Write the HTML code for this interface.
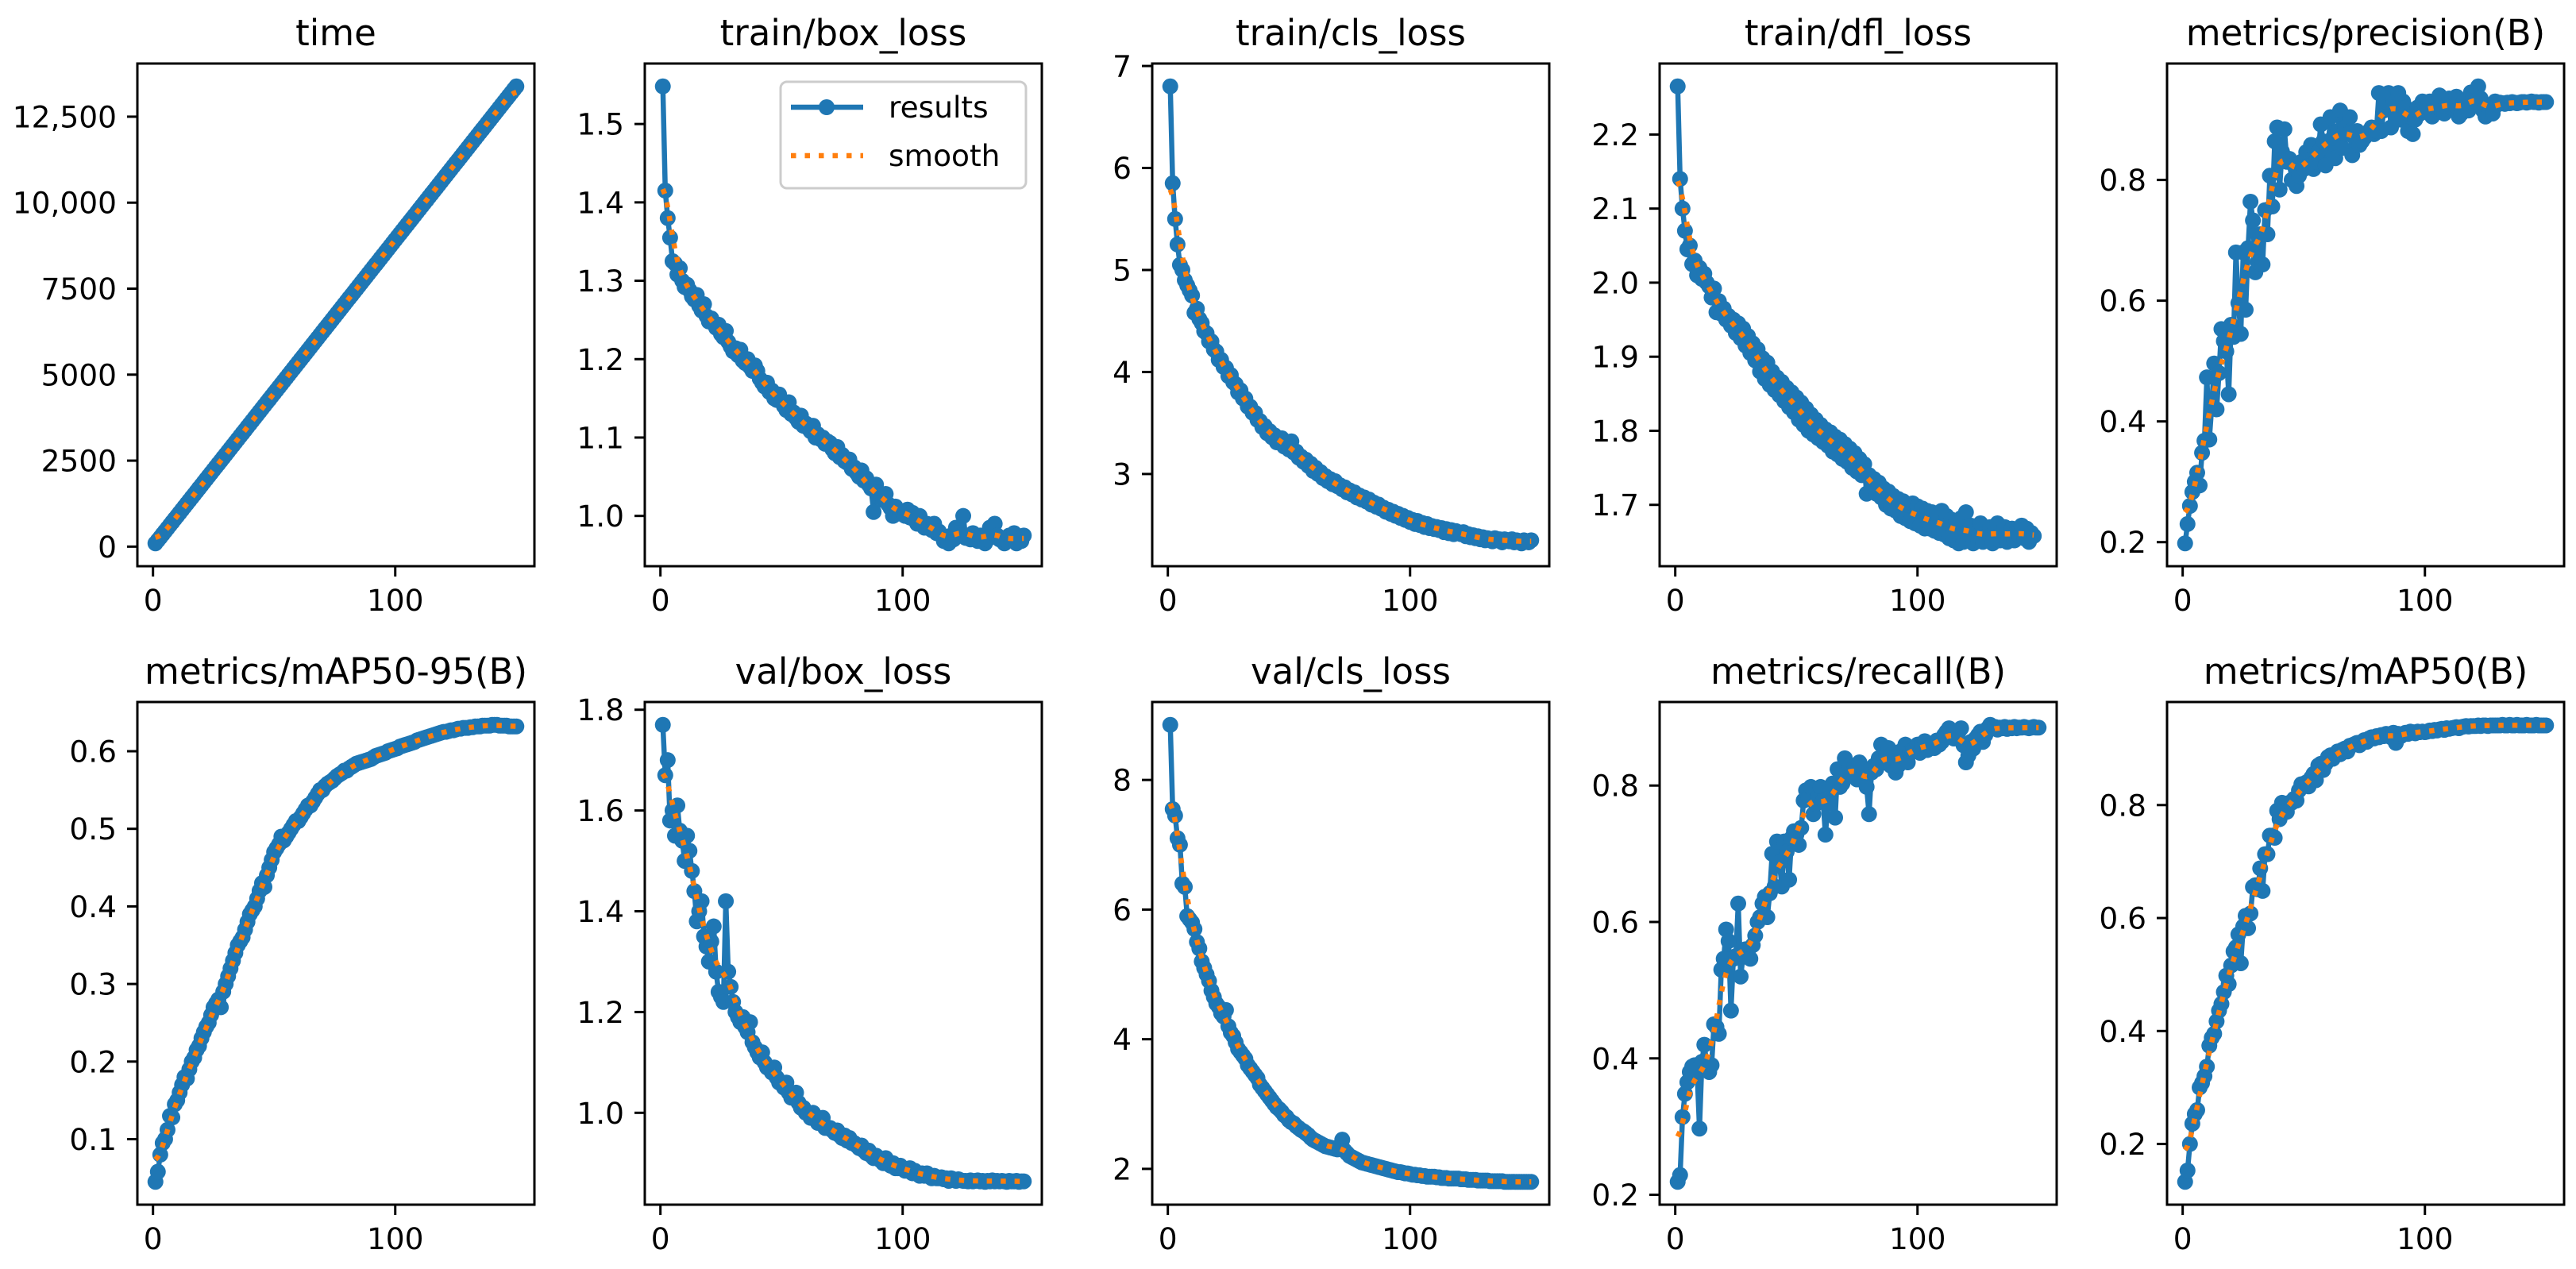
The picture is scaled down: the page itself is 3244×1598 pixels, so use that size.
<!DOCTYPE html>
<html><head><meta charset="utf-8"><style>
html,body{margin:0;padding:0;background:#fff;}
svg{display:block;font-family:"DejaVu Sans","Liberation Sans",sans-serif;}
</style></head><body>
<svg id="fig" width="3244" height="1598" viewBox="0 0 3244 1598" xmlns="http://www.w3.org/2000/svg"></svg>
<script>
const epochs = Array.from({length:150},(_,i)=>i+1);
const timeVals = [95,182,270,360,448,537,626,715,805,893,982,1071,1160,1250,1339,1428,1517,1606,1696,1785,1874,1963,2052,2142,2231,2320,2409,2498,2588,2677,2766,2855,2944,3034,3123,3212,3301,3390,3480,3569,3658,3747,3836,3926,4015,4104,4193,4282,4372,4461,4550,4639,4728,4818,4907,4996,5085,5174,5264,5353,5442,5531,5620,5710,5799,5888,5977,6066,6156,6245,6334,6423,6512,6602,6691,6780,6869,6958,7048,7137,7226,7315,7404,7494,7583,7672,7761,7850,7940,8029,8118,8207,8296,8386,8475,8564,8653,8742,8832,8921,9010,9099,9188,9278,9367,9456,9545,9634,9724,9813,9902,9991,10080,10170,10259,10348,10437,10526,10616,10705,10794,10883,10972,11062,11151,11240,11329,11418,11508,11597,11686,11775,11864,11954,12043,12132,12221,12310,12400,12489,12578,12667,12756,12846,12935,13024,13113,13202,13292,13381];
const trainBox = [1.548,1.415,1.380,1.355,1.325,1.322,1.308,1.316,1.300,1.292,1.295,1.288,1.280,1.276,1.282,1.268,1.262,1.270,1.255,1.248,1.252,1.245,1.240,1.244,1.232,1.228,1.236,1.222,1.216,1.210,1.214,1.205,1.212,1.198,1.195,1.200,1.190,1.185,1.192,1.185,1.175,1.170,1.165,1.170,1.158,1.160,1.150,1.148,1.155,1.146,1.140,1.135,1.145,1.130,1.132,1.125,1.120,1.128,1.115,1.118,1.112,1.108,1.115,1.100,1.104,1.098,1.100,1.092,1.095,1.093,1.085,1.080,1.088,1.075,1.078,1.070,1.068,1.072,1.060,1.062,1.055,1.050,1.058,1.045,1.048,1.040,1.035,1.005,1.040,1.030,1.025,1.020,1.028,1.015,1.010,1.000,1.012,1.008,1.003,1.005,1.000,1.008,0.998,1.004,0.995,0.990,1.000,0.992,0.985,0.990,0.985,0.982,0.990,0.978,0.980,0.975,0.968,0.972,0.965,0.975,0.970,0.985,0.978,0.975,1.000,0.972,0.975,0.970,0.978,0.972,0.968,0.975,0.972,0.965,0.970,0.985,0.978,0.990,0.975,0.970,0.972,0.965,0.968,0.975,0.970,0.978,0.965,0.972,0.968,0.975];
const trainCls = [6.80,5.85,5.50,5.25,5.05,5.00,4.90,4.85,4.80,4.75,4.58,4.62,4.52,4.48,4.40,4.38,4.30,4.30,4.22,4.20,4.12,4.12,4.05,4.04,3.96,3.97,3.90,3.88,3.80,3.82,3.74,3.74,3.66,3.66,3.60,3.60,3.53,3.52,3.46,3.47,3.40,3.42,3.36,3.38,3.31,3.32,3.35,3.27,3.28,3.24,3.32,3.21,3.22,3.16,3.17,3.12,3.14,3.08,3.10,3.03,3.06,3.00,3.02,2.96,2.98,2.93,2.95,2.90,2.93,2.88,2.89,2.85,2.87,2.82,2.84,2.80,2.82,2.77,2.79,2.75,2.77,2.73,2.75,2.70,2.72,2.68,2.70,2.66,2.67,2.63,2.65,2.61,2.63,2.59,2.61,2.57,2.59,2.55,2.57,2.53,2.55,2.51,2.54,2.50,2.52,2.48,2.51,2.47,2.49,2.46,2.48,2.45,2.47,2.43,2.46,2.42,2.45,2.41,2.44,2.42,2.41,2.43,2.39,2.41,2.38,2.40,2.37,2.39,2.36,2.38,2.35,2.37,2.36,2.34,2.37,2.35,2.36,2.33,2.36,2.35,2.34,2.36,2.33,2.35,2.34,2.32,2.35,2.34,2.33,2.35];
const trainDfl = [2.265,2.140,2.100,2.070,2.045,2.050,2.025,2.030,2.010,2.020,2.005,2.012,2.000,1.995,1.980,1.992,1.960,1.975,1.958,1.965,1.950,1.955,1.942,1.950,1.932,1.945,1.925,1.938,1.915,1.928,1.905,1.918,1.895,1.910,1.880,1.898,1.870,1.892,1.862,1.880,1.855,1.872,1.848,1.866,1.840,1.858,1.832,1.852,1.825,1.845,1.815,1.838,1.808,1.830,1.800,1.822,1.795,1.815,1.790,1.808,1.785,1.802,1.780,1.798,1.772,1.792,1.768,1.788,1.762,1.782,1.758,1.776,1.750,1.770,1.745,1.762,1.740,1.755,1.715,1.740,1.725,1.735,1.715,1.730,1.710,1.722,1.700,1.718,1.695,1.712,1.692,1.708,1.685,1.705,1.682,1.700,1.678,1.702,1.675,1.698,1.672,1.695,1.668,1.692,1.668,1.690,1.665,1.688,1.662,1.692,1.660,1.685,1.655,1.680,1.652,1.678,1.648,1.682,1.650,1.690,1.655,1.672,1.648,1.668,1.652,1.675,1.650,1.662,1.655,1.670,1.648,1.665,1.675,1.652,1.658,1.670,1.650,1.662,1.668,1.652,1.665,1.658,1.672,1.655,1.668,1.650,1.662,1.658];
const precision = [.198,.23,.26,.283,.30,.315,.294,.348,.368,.473,.37,.425,.496,.42,.48,.553,.533,.516,.445,.56,.54,.68,.596,.545,.68,.585,.687,.764,.733,.647,.664,.71,.66,.75,.71,.807,.756,.864,.887,.784,.847,.884,.83,.835,.80,.824,.79,.807,.83,.818,.846,.823,.858,.818,.83,.846,.892,.864,.824,.853,.904,.87,.836,.881,.915,.853,.887,.876,.904,.841,.87,.881,.858,.864,.87,.876,.881,.887,.876,.881,.944,.881,.915,.93,.944,.887,.93,.91,.944,.90,.93,.92,.881,.905,.876,.90,.92,.91,.93,.915,.92,.93,.905,.91,.92,.94,.915,.91,.93,.935,.92,.925,.938,.905,.91,.93,.92,.915,.945,.94,.93,.955,.935,.915,.905,.92,.92,.91,.93,.925,.928,.927,.926,.928,.927,.929,.928,.927,.928,.929,.929,.928,.929,.93,.929,.929,.928,.929,.929,.929];
const map5095 = [.045,.058,.080,.095,.10,.112,.13,.128,.145,.15,.16,.17,.18,.178,.19,.20,.205,.215,.22,.23,.238,.245,.25,.26,.27,.275,.28,.27,.29,.30,.31,.32,.33,.34,.35,.355,.36,.37,.38,.39,.395,.40,.41,.42,.43,.425,.44,.45,.46,.47,.475,.48,.49,.485,.49,.495,.50,.505,.51,.51,.515,.52,.525,.53,.53,.535,.54,.545,.55,.55,.555,.558,.56,.562,.565,.568,.57,.572,.575,.575,.578,.58,.582,.584,.585,.586,.587,.588,.589,.59,.592,.594,.595,.596,.597,.598,.60,.601,.602,.603,.604,.606,.607,.608,.609,.61,.611,.612,.614,.615,.616,.617,.618,.619,.62,.621,.622,.623,.624,.625,.625,.626,.627,.627,.628,.629,.629,.63,.63,.63,.631,.631,.632,.632,.632,.633,.633,.633,.633,.634,.634,.634,.633,.633,.633,.633,.632,.632,.632,.632];
const valBox = [1.77,1.67,1.70,1.58,1.60,1.55,1.61,1.56,1.54,1.50,1.55,1.52,1.48,1.44,1.38,1.40,1.42,1.35,1.33,1.30,1.34,1.37,1.28,1.24,1.23,1.22,1.42,1.28,1.25,1.22,1.20,1.19,1.18,1.19,1.17,1.16,1.18,1.14,1.13,1.12,1.11,1.12,1.10,1.09,1.09,1.08,1.09,1.07,1.06,1.06,1.05,1.06,1.04,1.03,1.03,1.04,1.02,1.01,1.01,1.00,1.00,0.99,1.00,0.99,0.98,0.98,0.99,0.97,0.97,0.97,0.965,0.96,0.965,0.955,0.95,0.955,0.945,0.95,0.94,0.94,0.935,0.93,0.935,0.925,0.92,0.925,0.915,0.91,0.915,0.91,0.905,0.90,0.91,0.90,0.895,0.90,0.89,0.89,0.895,0.89,0.885,0.885,0.89,0.88,0.885,0.88,0.875,0.88,0.875,0.88,0.875,0.87,0.875,0.87,0.87,0.872,0.868,0.87,0.865,0.87,0.868,0.865,0.868,0.866,0.865,0.865,0.864,0.866,0.864,0.865,0.866,0.864,0.865,0.863,0.865,0.864,0.866,0.864,0.865,0.864,0.865,0.864,0.863,0.865,0.864,0.864,0.865,0.863,0.864,0.864];
const valCls = [8.85,7.55,7.45,7.10,7.00,6.40,6.35,5.90,5.85,5.80,5.70,5.50,5.40,5.20,5.10,5.00,4.90,4.75,4.65,4.55,4.50,4.40,4.35,4.45,4.20,4.10,4.05,3.95,3.85,3.80,3.75,3.70,3.60,3.55,3.50,3.45,3.40,3.30,3.25,3.20,3.15,3.10,3.05,3.00,2.95,2.92,2.88,2.83,2.80,2.75,2.72,2.70,2.66,2.63,2.60,2.58,2.55,2.52,2.48,2.45,2.43,2.41,2.39,2.37,2.35,2.34,2.33,2.32,2.31,2.30,2.35,2.45,2.28,2.24,2.20,2.18,2.16,2.14,2.12,2.10,2.09,2.08,2.07,2.06,2.05,2.04,2.03,2.02,2.01,2.00,1.99,1.98,1.97,1.96,1.95,1.95,1.94,1.93,1.93,1.92,1.91,1.91,1.90,1.90,1.89,1.89,1.88,1.88,1.88,1.88,1.87,1.87,1.86,1.86,1.86,1.85,1.85,1.85,1.85,1.85,1.84,1.84,1.84,1.83,1.83,1.83,1.83,1.82,1.82,1.82,1.82,1.82,1.81,1.81,1.81,1.81,1.81,1.81,1.80,1.80,1.80,1.80,1.80,1.80,1.80,1.80,1.80,1.80,1.80,1.80];
const recall = [.219,.229,.314,.348,.365,.38,.388,.39,.383,.297,.395,.42,.39,.38,.39,.45,.446,.436,.53,.546,.589,.572,.47,.546,.55,.627,.52,.55,.56,.557,.546,.566,.58,.60,.607,.627,.637,.607,.642,.70,.652,.718,.687,.652,.718,.703,.662,.723,.733,.728,.713,.738,.778,.793,.783,.798,.758,.773,.783,.798,.778,.728,.773,.798,.803,.753,.824,.798,.803,.84,.824,.829,.819,.829,.809,.834,.824,.819,.798,.758,.819,.829,.824,.84,.86,.834,.845,.855,.829,.84,.819,.829,.85,.84,.86,.834,.85,.85,.855,.86,.848,.86,.865,.852,.858,.862,.855,.866,.86,.864,.874,.879,.884,.874,.869,.874,.879,.884,.859,.834,.844,.864,.854,.869,.874,.879,.864,.874,.884,.889,.884,.886,.882,.885,.884,.886,.883,.885,.884,.886,.884,.885,.885,.886,.885,.884,.885,.886,.885,.885];
const map50 = [.133,.153,.20,.236,.253,.26,.30,.308,.32,.337,.374,.388,.395,.417,.436,.448,.469,.498,.483,.516,.541,.548,.571,.52,.585,.604,.582,.608,.655,.658,.651,.688,.648,.713,.713,.746,.746,.742,.79,.775,.804,.79,.788,.804,.804,.811,.808,.826,.837,.837,.84,.833,.848,.855,.844,.87,.873,.862,.873,.885,.888,.882,.89,.895,.89,.898,.9,.895,.905,.906,.908,.91,.906,.912,.915,.912,.918,.92,.918,.922,.92,.924,.922,.926,.925,.92,.928,.91,.926,.922,.925,.928,.926,.93,.929,.927,.93,.929,.93,.929,.93,.932,.931,.933,.932,.934,.935,.933,.936,.935,.936,.937,.938,.936,.938,.939,.94,.939,.94,.94,.94,.941,.94,.941,.941,.94,.941,.941,.941,.941,.941,.942,.941,.941,.942,.941,.941,.942,.941,.941,.941,.942,.941,.941,.941,.942,.941,.941,.941,.941];

const xTicks = [0,100];
const xTickLabels = ["0","100"];
const timeTicks = [0,2500,5000,7500,10000,12500];
const timeTickLabels = ["0","2500","5000","7500","10,000","12,500"];
const boxTicks = [1.0,1.1,1.2,1.3,1.4,1.5];
const clsTicks = [3,4,5,6,7];
const dflTicks = [1.7,1.8,1.9,2.0,2.1,2.2];
const fracTicks = [0.2,0.4,0.6,0.8];
const map5095Ticks = [0.1,0.2,0.3,0.4,0.5,0.6];
const valBoxTicks = [1.0,1.2,1.4,1.6,1.8];
const valClsTicks = [2,4,6,8];

const NS = "http://www.w3.org/2000/svg";
const svg = document.getElementById('fig');
function mk(tag, attrs, parent){
  const e = document.createElementNS(NS, tag);
  for (const k in attrs) e.setAttribute(k, attrs[k]);
  (parent||svg).appendChild(e);
  return e;
}
function smooth(y, sigma){
  const r = Math.round(4*sigma), n = y.length, w = [];
  let s = 0;
  for (let k=-r;k<=r;k++){ const v = Math.exp(-k*k/(2*sigma*sigma)); w.push(v); s+=v; }
  return y.map((_,i)=>{
    let acc = 0;
    for (let k=-r;k<=r;k++){
      let j = i+k;
      while (j<0 || j>=n){ if (j<0) j = -j-1; if (j>=n) j = 2*n-j-1; }
      acc += w[k+r]*y[j];
    }
    return acc/s;
  });
}
function fmt(v, ticks, labels, i){
  if (labels) return labels[i];
  const allInt = ticks.every(t => Number.isInteger(t));
  return allInt ? String(v) : v.toFixed(1);
}

const COLW = 500, ROWH = 633;
const LEFTS = [173,812,1451,2090,2729];
const TOPS = [80,884];
const DASH = '6.5 11';

function panel(idx, title, ys, ticks, tickLabels, key, legend){
  const L = LEFTS[idx%5], T = TOPS[Math.floor(idx/5)], B = T+ROWH;
  const g = mk('g', {});
  
  
  const sm = smooth(ys, 3);
  const all = ys.concat(sm);
  let lo = Math.min(...all), hi = Math.max(...all);
  const pad = (hi-lo)*0.05; lo -= pad; hi += pad;
  const x0 = 1 - 149*0.05, x1 = 150 + 149*0.05;
  const sx = v => L + (v - x0)/(x1 - x0)*COLW;
  const sy = v => B - (v - lo)/(hi - lo)*ROWH;

  const t = mk('text', {x: L+COLW/2, y: T-23, 'text-anchor':'middle', 'font-size':45, fill:'#000'}, g);
  t.textContent = title;
  
  

  const clip = mk('clipPath', {id:'clip'+idx}, g);
  mk('rect', {x:L, y:T, width:COLW, height:ROWH}, clip);

  const d = ys.map((v,i)=>(i?'L':'M')+sx(epochs[i]).toFixed(2)+','+sy(v).toFixed(2)).join('');
  const line = mk('path', {d, fill:'none', stroke:'#1f77b4', 'stroke-width':6.5, 'stroke-linejoin':'round', 'clip-path':'url(#clip'+idx+')'}, g);
  
  
  const mg = mk('g', {fill:'#1f77b4', 'clip-path':'url(#clip'+idx+')'}, g);
  
  
  ys.forEach((v,i)=>{
    const c = mk('circle', {cx:sx(epochs[i]).toFixed(2), cy:sy(v).toFixed(2), r:10}, mg);
    
    
  });
  const ds = sm.map((v,i)=>(i?'L':'M')+sx(epochs[i]).toFixed(2)+','+sy(v).toFixed(2)).join('');
  const sl = mk('path', {d:ds, fill:'none', stroke:'#ff7f0e', 'stroke-width':6.5, 'stroke-dasharray':DASH, 'clip-path':'url(#clip'+idx+')'}, g);
  
  

  const fr = mk('rect', {x:L, y:T, width:COLW, height:ROWH, fill:'none', stroke:'#000', 'stroke-width':3}, g);
  
  

  ticks.forEach((v,i)=>{
    const y = sy(v);
    mk('line', {x1:L-13, x2:L, y1:y, y2:y, stroke:'#000', 'stroke-width':3}, g);
    const tl = mk('text', {x:L-26, y:y+13.5, 'text-anchor':'end', 'font-size':37.5, fill:'#000'}, g);
    tl.textContent = fmt(v, ticks, tickLabels, i);
    
    
  });
  xTicks.forEach((v,i)=>{
    const x = sx(v);
    mk('line', {x1:x, x2:x, y1:B, y2:B+13, stroke:'#000', 'stroke-width':3}, g);
    const tl = mk('text', {x:x, y:B+56, 'text-anchor':'middle', 'font-size':37.5, fill:'#000'}, g);
    tl.textContent = xTickLabels[i];
    
    
  });

  if (legend){
    const lg = mk('g', {}, g);
    
    
    mk('rect', {x:L+171, y:T+23, width:309, height:134, rx:8, fill:'#fff', 'fill-opacity':0.8, stroke:'#cccccc', 'stroke-width':3}, lg);
    const e1 = mk('g', {}, lg);
    
    
    mk('line', {x1:L+184, x2:L+275, y1:T+55, y2:T+55, stroke:'#1f77b4', 'stroke-width':6.5}, e1);
    mk('circle', {cx:L+229, cy:T+55, r:10, fill:'#1f77b4'}, e1);
    const t1 = mk('text', {x:L+307, y:T+68, 'font-size':37.5, fill:'#000'}, e1);
    t1.textContent = 'results';
    const e2 = mk('g', {}, lg);
    
    
    mk('line', {x1:L+184, x2:L+275, y1:T+116, y2:T+116, stroke:'#ff7f0e', 'stroke-width':6.5, 'stroke-dasharray':DASH}, e2);
    const t2 = mk('text', {x:L+307, y:T+129, 'font-size':37.5, fill:'#000'}, e2);
    t2.textContent = 'smooth';
  }
}

panel(0, 'time', timeVals, timeTicks, timeTickLabels, 'time', false);
panel(1, 'train/box_loss', trainBox, boxTicks, null, 'train-box-loss', true);
panel(2, 'train/cls_loss', trainCls, clsTicks, null, 'train-cls-loss', false);
panel(3, 'train/dfl_loss', trainDfl, dflTicks, null, 'train-dfl-loss', false);
panel(4, 'metrics/precision(B)', precision, fracTicks, null, 'precision', false);
panel(5, 'metrics/mAP50-95(B)', map5095, map5095Ticks, null, 'map50-95', false);
panel(6, 'val/box_loss', valBox, valBoxTicks, null, 'val-box-loss', false);
panel(7, 'val/cls_loss', valCls, valClsTicks, null, 'val-cls-loss', false);
panel(8, 'metrics/recall(B)', recall, fracTicks, null, 'recall', false);
panel(9, 'metrics/mAP50(B)', map50, fracTicks, null, 'map50', false);
</script>
</body></html>
